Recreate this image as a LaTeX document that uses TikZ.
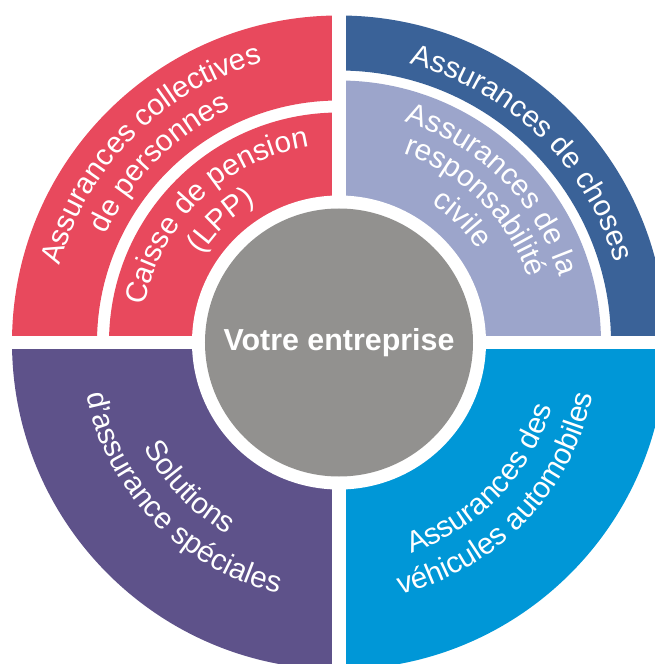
\documentclass[tikz,border=0pt]{standalone}
\usepackage{fontspec}
\setmainfont{Liberation Sans}
\usetikzlibrary{decorations.text}

\definecolor{pinkred}{RGB}{232,73,93}
\definecolor{navyblue}{RGB}{58,98,152}
\definecolor{lavender}{RGB}{156,165,203}
\definecolor{plum}{RGB}{94,82,138}
\definecolor{skyblue}{RGB}{0,151,215}
\definecolor{coregray}{RGB}{146,145,143}
\newcommand{\arcfont}{\fontsize{22.3}{26}\selectfont\color{white}}

\begin{document}
\begin{tikzpicture}[x=0.75pt, y=0.75pt,
	arctext/.style={decorate, decoration={text along path, text align=center, text={|\arcfont|#1}}},
	core/.style={circle, fill=coregray, minimum size=201pt, inner sep=0pt, text=white, font=\fontsize{22.8}{26}\selectfont\bfseries}]
	\useasboundingbox (-339, -321.5) rectangle (316, 342.5);
	% Ring sectors:
	\fill[pinkred] (90:242) arc[start angle=90, end angle=180, radius=242] -- (180:327) arc[start angle=180, end angle=90, radius=327] -- cycle;
	\fill[pinkred] (90:140) arc[start angle=90, end angle=180, radius=140] -- (180:230) arc[start angle=180, end angle=90, radius=230] -- cycle;
	\fill[navyblue] (0:272) arc[start angle=0, end angle=90, radius=272] -- (90:327) arc[start angle=90, end angle=0, radius=327] -- cycle;
	\fill[lavender] (0:140) arc[start angle=0, end angle=90, radius=140] -- (90:262) arc[start angle=90, end angle=0, radius=262] -- cycle;
	\fill[plum] (180:140) arc[start angle=180, end angle=270, radius=140] -- (270:327) arc[start angle=270, end angle=180, radius=327] -- cycle;
	\fill[skyblue] (270:140) arc[start angle=270, end angle=360, radius=140] -- (360:327) arc[start angle=360, end angle=270, radius=327] -- cycle;
	\draw[white, line width=10.5pt] (0, -340) -- (0, 350);
	\draw[white, line width=9.75pt] (-345, 0) -- (340, 0);
	% Centre:
	\fill[white] (0, 0) circle[radius=147];
	\node[core] (core) at (0, 0) {Votre entreprise};
	% Curved labels:
	\path[arctext={Assurances collectives}] (195:290) arc[start angle=195, end angle=75, radius=290];
	\path[arctext={de personnes}] (195:257) arc[start angle=195, end angle=75, radius=257];
	\path[arctext={Caisse de pension}] (184:198) arc[start angle=184, end angle=84, radius=198];
	\path[arctext={(LPP)}] (184:163) arc[start angle=184, end angle=84, radius=163];
	\path[arctext={Assurances de choses}] (106:287) arc[start angle=106, end angle=-14, radius=287];
	\path[arctext={Assurances de la}] (105:230) arc[start angle=105, end angle=-15, radius=230];
	\path[arctext={responsabilité}] (105:200) arc[start angle=105, end angle=-15, radius=200];
	\path[arctext={civile}] (105:167) arc[start angle=105, end angle=-15, radius=167];
	\path[arctext={Solutions}] (164:222) arc[start angle=164, end angle=284, radius=222];
	\path[arctext={d'assurance spéciales}] (164:258) arc[start angle=164, end angle=284, radius=258];
	\path[arctext={Assurances des}] (256:223) arc[start angle=256, end angle=376, radius=223];
	\path[arctext={véhicules automobiles}] (256:259) arc[start angle=256, end angle=376, radius=259];
\end{tikzpicture}
\end{document}
